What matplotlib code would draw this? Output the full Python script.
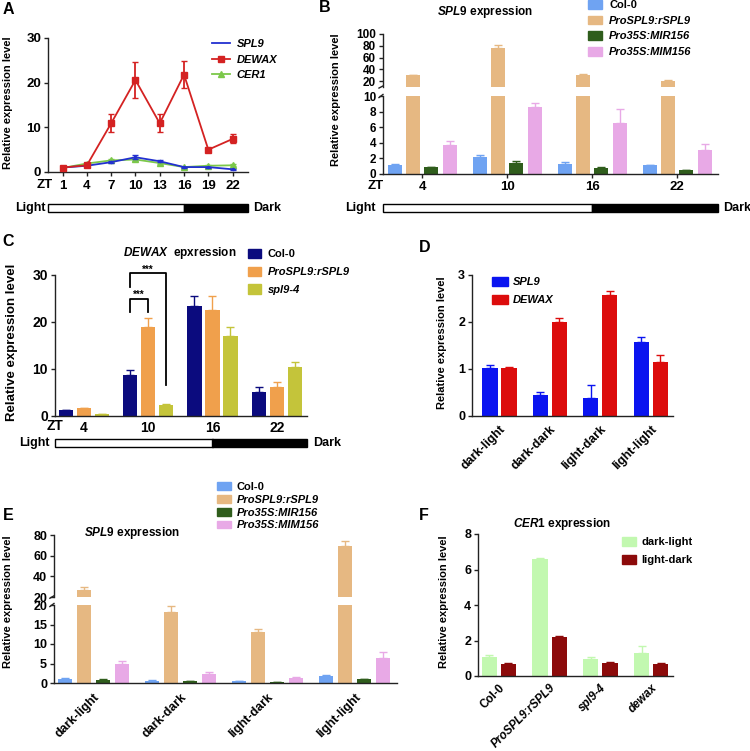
import numpy as np
import matplotlib
matplotlib.use("Agg")
import matplotlib.pyplot as plt
from matplotlib.patches import Rectangle
from matplotlib.lines import Line2D

plt.rcParams['font.family'] = ['Liberation Sans', 'DejaVu Sans']
plt.rcParams['font.weight'] = 'bold'
plt.rcParams['mathtext.fontset'] = 'custom'
plt.rcParams['mathtext.it'] = 'Liberation Sans:italic:bold'
plt.rcParams['mathtext.rm'] = 'Liberation Sans:bold'
plt.rcParams['axes.linewidth'] = 1.0
plt.rcParams['axes.edgecolor'] = '#222222'

# ---- A: diurnal time course ----
zt_a = [1, 4, 7, 10, 13, 16, 19, 22]
spl9_a = [1.0, 1.4, 2.2, 3.3, 2.4, 1.1, 1.1, 0.6]
spl9_a_err = [0.1, 0.1, 0.2, 0.4, 0.2, 0.1, 0.1, 0.1]
dewax_a = [1.0, 1.5, 10.9, 20.6, 10.9, 21.8, 5.0, 7.4]
dewax_a_err = [0.2, 0.2, 2.0, 4.1, 2.0, 3.0, 0.3, 1.0]
cer1_a = [0.9, 1.9, 2.6, 2.8, 2.0, 1.1, 1.4, 1.5]
cer1_a_err = [0.2, 0.2, 0.4, 0.3, 0.2, 0.1, 0.2, 0.2]
dark_start_zt = 16

# ---- B: SPL9 expression over the day ----
zt_b = ['4', '10', '16', '22']
b_col0 = [1.1, 2.2, 1.3, 1.1]
b_col0_err = [0.15, 0.3, 0.25, 0.1]
b_rspl9 = [30, 76, 31, 21]
b_rspl9_err = [1, 5, 1, 0.5]
b_mir156 = [0.9, 1.4, 0.75, 0.45]
b_mir156_err = [0.05, 0.25, 0.15, 0.05]
b_mim156 = [3.7, 8.6, 6.6, 3.1]
b_mim156_err = [0.5, 0.5, 1.7, 0.7]

# ---- C: DEWAX expression ----
zt_c = ['4', '10', '16', '22']
c_col0 = [1.2, 8.8, 23.4, 5.2]
c_col0_err = [0.1, 1.0, 2.1, 0.9]
c_rspl9 = [1.6, 19.0, 22.6, 6.2]
c_rspl9_err = [0.15, 1.9, 2.9, 1.0]
c_spl94 = [0.4, 2.3, 17.0, 10.4]
c_spl94_err = [0.05, 0.3, 1.9, 1.0]

# ---- D: SPL9 / DEWAX under light treatments ----
treat = ['dark-light', 'dark-dark', 'light-dark', 'light-light']
d_spl9 = [1.02, 0.44, 0.38, 1.58]
d_spl9_err = [0.06, 0.07, 0.28, 0.1]
d_dewax = [1.02, 2.0, 2.58, 1.14]
d_dewax_err = [0.03, 0.08, 0.08, 0.16]

# ---- E: SPL9 expression under light treatments ----
e_col0 = [1.1, 0.55, 0.45, 1.8]
e_col0_err = [0.15, 0.1, 0.05, 0.2]
e_rspl9 = [27, 18.2, 13.1, 69]
e_rspl9_err = [3, 1.6, 0.7, 5]
e_mir156 = [0.85, 0.45, 0.3, 1.0]
e_mir156_err = [0.05, 0.05, 0.05, 0.1]
e_mim156 = [4.9, 2.4, 1.4, 6.4]
e_mim156_err = [0.7, 0.4, 0.15, 1.6]

# ---- F: CER1 expression ----
lines_f = ['Col-0', 'ProSPL9:rSPL9', 'spl9-4', 'dewax']
f_dark_light = [1.05, 6.6, 0.97, 1.3]
f_dark_light_err = [0.15, 0.03, 0.1, 0.4]
f_light_dark = [0.65, 2.2, 0.72, 0.7]
f_light_dark_err = [0.1, 0.05, 0.07, 0.05]

W, H = 750, 751
fig = plt.figure(figsize=(W / 100, H / 100), dpi=100)


def px_axes(x0, y0, x1, y1):
    return fig.add_axes([x0 / W, 1 - y1 / H, (x1 - x0) / W, (y1 - y0) / H])


def ftext(x, y, s, **kw):
    fig.text(x / W, 1 - y / H, s, **kw)


def style(ax, fs=9):
    for s in ('top', 'right'):
        ax.spines[s].set_visible(False)
    ax.tick_params(labelsize=fs, width=1, length=3, pad=2, color='#222222')


def grouped(ax, series, colors, width, step, floor=None):
    # floor: only draw points reaching above it (upper part of a broken axis)
    n = len(series)
    for i, ((vals, errs), c) in enumerate(zip(series, colors)):
        x = np.arange(len(vals)) + (i - (n - 1) / 2) * step
        vals, errs = np.asarray(vals, float), np.asarray(errs, float)
        keep = np.ones(len(vals), bool) if floor is None else vals > floor
        if not keep.any():
            continue
        ax.bar(x[keep], vals[keep], width, color=c, zorder=2)
        ax.errorbar(x[keep], vals[keep], yerr=[np.zeros(keep.sum()), errs[keep]],
                    fmt='none', ecolor=c, elinewidth=1, capsize=3, capthick=1, zorder=1)


def light_bar(ax_ref, y0, y1, dark_start, lx, dx):
    pos = ax_ref.get_position()
    lb = fig.add_axes([pos.x0, 1 - y1 / H, pos.width, (y1 - y0) / H])
    x0, x1 = ax_ref.get_xlim()
    lb.set_xlim(x0, x1)
    lb.set_ylim(0, 1)
    lb.add_patch(Rectangle((x0, 0), dark_start - x0, 1, facecolor='white',
                           edgecolor='black', lw=1, clip_on=False))
    lb.add_patch(Rectangle((dark_start, 0), x1 - dark_start, 1, facecolor='black',
                           edgecolor='black', lw=1, clip_on=False))
    lb.axis('off')
    ym = (y0 + y1) / 2
    ftext(lx, ym, 'Light', ha='right', va='center', fontsize=9)
    ftext(dx, ym, 'Dark', ha='left', va='center', fontsize=9)


def break_marks(ax_up, ax_low):
    kw = dict(color='#222222', lw=1, clip_on=False)
    ax_up.plot([-0.012, 0.0], [-0.02, 0.02], transform=ax_up.transAxes, **kw)
    ax_low.plot([-0.012, 0.0], [0.98, 1.02], transform=ax_low.transAxes, **kw)


def ylab(x, y, fs=8, weight='bold'):
    ftext(x, y, 'Relative expression level', rotation=90, ha='center',
          va='center', fontsize=fs, fontweight=weight)


# panel letters
for letter, (x, y) in zip('ABCDEF', [(8, 9), (325, 8), (8, 241), (425, 248), (8, 515), (424, 515)]):
    ftext(x, y, letter, ha='center', va='center', fontsize=11.5)

# ================= A =================
blue_a, red_a, green_a = '#2230d0', '#d42222', '#7cc84a'
axA = px_axes(48, 38, 248, 172)
axA.errorbar(zt_a, cer1_a, yerr=cer1_a_err, color=green_a, marker='^', ms=4.5,
             lw=1.3, capsize=2.5, zorder=2)
axA.errorbar(zt_a, spl9_a, yerr=spl9_a_err, color=blue_a, marker='o', ms=1.5,
             lw=1.3, capsize=2.5, zorder=3)
axA.errorbar(zt_a, dewax_a, yerr=dewax_a_err, color=red_a, marker='s', ms=5,
             lw=1.3, capsize=2.5, zorder=4)
axA.set_xlim(-0.8, 23.9)
axA.set_ylim(0, 30)
axA.set_yticks([0, 10, 20, 30])
axA.set_xticks(zt_a)
style(axA, 9.5)
axA.tick_params(axis='x', length=3, pad=3)
ftext(45, 185, 'ZT', ha='center', va='center', fontsize=9.5)
handles = [Line2D([], [], color=blue_a, lw=1.3),
           Line2D([], [], color=red_a, lw=1.3, marker='s', ms=5),
           Line2D([], [], color=green_a, lw=1.3, marker='^', ms=4.5)]
legA = axA.legend(handles, ['SPL9', 'DEWAX', 'CER1'], loc='upper left',
                  bbox_to_anchor=(212 / W, 1 - 39 / H), bbox_transform=fig.transFigure,
                  frameon=False, fontsize=8, handlelength=1.6, handletextpad=0.6,
                  labelspacing=0.5, borderpad=0, borderaxespad=0)
for t in legA.get_texts():
    t.set_fontstyle('italic')
ylab(8, 103)
light_bar(axA, 204, 212, dark_start_zt, 46, 253)

# ================= B =================
colB = ['#6fa3f2', '#e6b882', '#2f5d1c', '#e8a9e6']
serB = [(b_col0, b_col0_err), (b_rspl9, b_rspl9_err),
        (b_mir156, b_mir156_err), (b_mim156, b_mim156_err)]
axBu = px_axes(383, 34, 718, 87)
axBl = px_axes(383, 96, 718, 174)
grouped(axBu, serB, colB, 0.165, 0.215, floor=10)
grouped(axBl, serB, colB, 0.165, 0.215)
for ax in (axBu, axBl):
    ax.set_xlim(-0.46, 3.48)
    style(ax, 8.5)
axBu.set_ylim(10, 100)
axBu.set_yticks([20, 40, 60, 80, 100])
axBu.spines['bottom'].set_visible(False)
axBu.set_xticks([])
axBl.set_ylim(0, 10)
axBl.set_yticks([0, 2, 4, 6, 8, 10])
axBl.set_xticks(range(len(zt_b)))
axBl.set_xticklabels(zt_b)
axBl.tick_params(axis='x', length=3, pad=2, labelsize=9.5)
break_marks(axBu, axBl)
ftext(376, 186, 'ZT', ha='center', va='center', fontsize=9.5)
ftext(485, 12, r'$\mathit{SPL9}$ expression', ha='center', va='center', fontsize=8.5)
legB = axBl.legend([Rectangle((0, 0), 1, 1, color=c) for c in colB],
                   ['Col-0', 'ProSPL9:rSPL9', 'Pro35S:MIR156', 'Pro35S:MIM156'],
                   loc='upper left', bbox_to_anchor=(588 / W, 1 - 0 / H),
                   bbox_transform=fig.transFigure, frameon=False, fontsize=8,
                   handlelength=1.3, handleheight=0.8, handletextpad=0.6,
                   labelspacing=0.5, borderpad=0, borderaxespad=0)
for t in legB.get_texts()[1:]:
    t.set_fontstyle('italic')
ylab(336, 100)
light_bar(axBl, 204, 212, zt_b.index('16'), 376, 723)

# ================= C =================
colC = ['#0b0b7e', '#f0a04c', '#c4c43a']
axC = px_axes(55, 275, 307, 416)
grouped(axC, [(c_col0, c_col0_err), (c_rspl9, c_rspl9_err), (c_spl94, c_spl94_err)],
        colC, 0.218, 0.28)
axC.set_xlim(-0.45, 3.47)
axC.set_ylim(0, 30)
axC.set_yticks([0, 10, 20, 30])
axC.set_xticks(range(len(zt_c)))
axC.set_xticklabels(zt_c)
style(axC, 10)
axC.tick_params(axis='x', length=0, pad=3.5)
ftext(55, 426, 'ZT', ha='center', va='center', fontsize=10)
ftext(180, 253, r'$\mathit{DEWAX}$  epxression', ha='center', va='center', fontsize=8.5)
# significance brackets at ZT10
g = zt_c.index('10')
xl, xm, xr = g - 0.28, g, g + 0.28
bk = dict(color='black', lw=1.3, clip_on=False)
axC.plot([xl, xl, xr, xr], [27.5, 30.4, 30.4, 6.5], **bk)
axC.plot([xl, xl, xm, xm], [22.1, 24.9, 24.9, 22.1], **bk)
axC.text(xm, 31.2, '***', ha='center', va='center', fontsize=7)
axC.text((xl + xm) / 2, 25.7, '***', ha='center', va='center', fontsize=7)
legC = axC.legend([Rectangle((0, 0), 1, 1, color=c) for c in colC],
                  ['Col-0', 'ProSPL9:rSPL9', 'spl9-4'], loc='upper left',
                  bbox_to_anchor=(248 / W, 1 - 249 / H), bbox_transform=fig.transFigure,
                  frameon=False, fontsize=8, handlelength=1.2, handleheight=0.9,
                  handletextpad=0.6, labelspacing=0.65, borderpad=0, borderaxespad=0)
for t in legC.get_texts()[1:]:
    t.set_fontstyle('italic')
ylab(12, 342, fs=9.5)
light_bar(axC, 439, 447, zt_c.index('16'), 50, 313)

# ================= D =================
colD = ['#0a14f0', '#dc0c0c']
axD = px_axes(472, 275, 673, 416)
grouped(axD, [(d_spl9, d_spl9_err), (d_dewax, d_dewax_err)], colD, 0.3, 0.376)
axD.set_xlim(-0.545, 3.44)
axD.set_ylim(0, 3)
axD.set_yticks([0, 1, 2, 3])
axD.set_xticks(range(len(treat)))
axD.set_xticklabels(treat, rotation=45, ha='right', va='top', rotation_mode='anchor')
style(axD, 9)
axD.tick_params(axis='x', length=0, pad=5)
legD = axD.legend([Rectangle((0, 0), 1, 1, color=c) for c in colD], ['SPL9', 'DEWAX'],
                  loc='upper left', bbox_to_anchor=(492 / W, 1 - 277 / H),
                  bbox_transform=fig.transFigure, frameon=False, fontsize=8,
                  handlelength=1.4, handleheight=0.9, handletextpad=0.5,
                  labelspacing=0.65, borderpad=0, borderaxespad=0)
for t in legD.get_texts():
    t.set_fontstyle('italic')
ylab(442, 343)

# ================= E =================
serE = [(e_col0, e_col0_err), (e_rspl9, e_rspl9_err),
        (e_mir156, e_mir156_err), (e_mim156, e_mim156_err)]
axEu = px_axes(54, 535, 397, 597)
axEl = px_axes(54, 605, 397, 683)
grouped(axEu, serE, colB, 0.16, 0.218, floor=20)
grouped(axEl, serE, colB, 0.16, 0.218)
for ax in (axEu, axEl):
    ax.set_xlim(-0.454, 3.49)
    style(ax, 9)
axEu.set_ylim(20, 80)
axEu.set_yticks([20, 40, 60, 80])
axEu.spines['bottom'].set_visible(False)
axEu.set_xticks([])
axEl.set_ylim(0, 20)
axEl.set_yticks([0, 5, 10, 15, 20])
axEl.set_xticks(range(len(treat)))
axEl.set_xticklabels(treat, rotation=45, ha='right', va='top', rotation_mode='anchor')
axEl.tick_params(axis='x', length=0, pad=6)
break_marks(axEu, axEl)
ftext(132, 533, r'$\mathit{SPL9}$ expression', ha='center', va='center', fontsize=8.5)
legE = axEl.legend([Rectangle((0, 0), 1, 1, color=c) for c in colB],
                   ['Col-0', 'ProSPL9:rSPL9', 'Pro35S:MIR156', 'Pro35S:MIM156'],
                   loc='upper left', bbox_to_anchor=(217 / W, 1 - 482 / H),
                   bbox_transform=fig.transFigure, frameon=False, fontsize=8,
                   handlelength=1.25, handleheight=0.7, handletextpad=0.5,
                   labelspacing=0.25, borderpad=0, borderaxespad=0)
for t in legE.get_texts()[1:]:
    t.set_fontstyle('italic')
ylab(8, 602)

# ================= F =================
colF = ['#c2f8b0', '#8c0a0a']
axF = px_axes(478, 534, 673, 676)
grouped(axF, [(f_dark_light, f_dark_light_err), (f_light_dark, f_light_dark_err)],
        colF, 0.3, 0.376)
axF.set_xlim(-0.41, 3.43)
axF.set_ylim(0, 8)
axF.set_yticks([0, 2, 4, 6, 8])
axF.set_xticks(range(len(lines_f)))
axF.set_xticklabels(lines_f, rotation=45, ha='right', va='top', rotation_mode='anchor')
style(axF, 9)
axF.tick_params(axis='x', length=0, pad=4, labelsize=8.3)
for t in axF.get_xticklabels()[1:]:
    t.set_fontstyle('italic')
ftext(562, 524, r'$\mathit{CER1}$ expression', ha='center', va='center', fontsize=8.5)
axF.legend([Rectangle((0, 0), 1, 1, color=c) for c in colF], ['dark-light', 'light-dark'],
           loc='upper left', bbox_to_anchor=(622 / W, 1 - 537 / H),
           bbox_transform=fig.transFigure, frameon=False, fontsize=8,
           handlelength=1.25, handleheight=0.9, handletextpad=0.5,
           labelspacing=0.65, borderpad=0, borderaxespad=0)
ylab(444, 602)

fig.savefig('out.png', dpi=100)
